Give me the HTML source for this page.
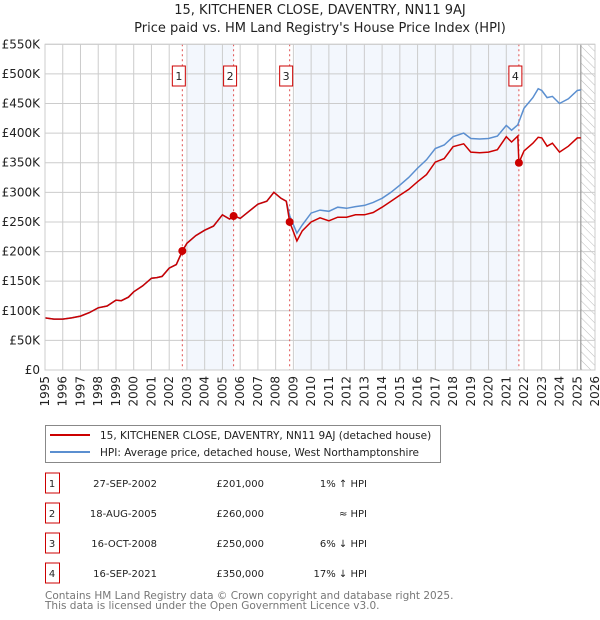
<!DOCTYPE html>
<html><head><meta charset="utf-8">
<style>
body{margin:0;background:#fff;font-family:"Liberation Sans","DejaVu Sans",sans-serif;}
svg{display:block}
</style></head>
<body>
<svg id="chart" width="600" height="620" xmlns="http://www.w3.org/2000/svg" font-family="DejaVu Sans, Liberation Sans, sans-serif">
<defs>
<pattern id="hatch" width="6" height="6" patternUnits="userSpaceOnUse" patternTransform="rotate(-45)">
<line x1="0" y1="0" x2="0" y2="6" stroke="#bbb" stroke-width="1"/>
</pattern>
</defs>
<text x="320" y="14" text-anchor="middle" font-size="13" fill="#222">15, KITCHENER CLOSE, DAVENTRY, NN11 9AJ</text>
<text x="320" y="32" text-anchor="middle" font-size="13" fill="#222">Price paid vs. HM Land Registry's House Price Index (HPI)</text>
<g id="plot"></g>
<g>
<rect x="45.5" y="425.5" width="395" height="37" fill="#fff" stroke="#888"/>
<line x1="50" y1="435" x2="90" y2="435" stroke="#cc0000" stroke-width="2"/>
<text x="100" y="439" font-size="10.5" fill="#222">15, KITCHENER CLOSE, DAVENTRY, NN11 9AJ (detached house)</text>
<line x1="50" y1="452" x2="90" y2="452" stroke="#5b8fd0" stroke-width="2"/>
<text x="100" y="456" font-size="10.5" fill="#222">HPI: Average price, detached house, West Northamptonshire</text>
</g>
<g id="table" font-size="10" fill="#222"></g>
<text x="45" y="599" font-size="10.5" fill="#777">Contains HM Land Registry data © Crown copyright and database right 2025.</text>
<text x="45" y="609" font-size="10.5" fill="#777">This data is licensed under the Open Government Licence v3.0.</text>
</svg>
<script>
const hpiYears=[1995,1995.5,1996,1996.5,1997,1997.5,1998,1998.5,1999,1999.3,1999.7,2000,2000.5,2001,2001.3,2001.6,2002,2002.4,2002.74,2003,2003.5,2004,2004.5,2005,2005.4,2005.7,2006,2006.5,2007,2007.5,2007.9,2008.3,2008.6,2008.8,2009.2,2009.5,2010,2010.5,2011,2011.5,2012,2012.5,2013,2013.5,2014,2014.5,2015,2015.5,2016,2016.5,2017,2017.5,2018,2018.6,2019,2019.5,2020,2020.5,2021,2021.3,2021.65,2022,2022.5,2022.8,2023,2023.3,2023.6,2024,2024.5,2025,2025.2];
const hpiValues=[88,86,86,88,91,97,105,108,118,117,123,132,142,155,156,158,172,178,200,214,227,236,243,262,255,259,256,268,280,285,300,290,285,260,231,245,265,270,268,275,273,276,278,283,290,300,312,325,341,355,374,380,394,400,391,390,391,395,413,405,414,442,460,475,472,460,462,450,458,472,473];
const redYears=[1995,1995.5,1996,1996.5,1997,1997.5,1998,1998.5,1999,1999.3,1999.7,2000,2000.5,2001,2001.3,2001.6,2002,2002.4,2002.74,2003,2003.5,2004,2004.5,2005,2005.4,2005.7,2006,2006.5,2007,2007.5,2007.9,2008.3,2008.6,2008.79,2009.2,2009.5,2010,2010.5,2011,2011.5,2012,2012.5,2013,2013.5,2014,2014.5,2015,2015.5,2016,2016.5,2017,2017.5,2018,2018.6,2019,2019.5,2020,2020.5,2021,2021.3,2021.65,2021.71,2022,2022.5,2022.8,2023,2023.3,2023.6,2024,2024.5,2025,2025.2];
const redValues=[88,86,86,88,91,97,105,108,118,117,123,132,142,155,156,158,172,178,201,214,227,236,243,262,255,260,256,268,280,285,300,290,285,250,218,235,250,257,252,258,258,262,262,266,275,285,295,305,318,330,351,357,377,382,368,367,368,372,394,385,395,350,370,383,393,392,378,383,368,378,392,392];
const saleLabels=['1','2','3','4'];
const saleYears=[2002.74,2005.63,2008.79,2021.71];
const salePrices=[201,260,250,350];
const saleDates=['27-SEP-2002','18-AUG-2005','16-OCT-2008','16-SEP-2021'];
const salePriceText=['£201,000','£260,000','£250,000','£350,000'];
const saleHpiText=['1% ↑ HPI','≈ HPI','6% ↓ HPI','17% ↓ HPI'];
const yTicks=[0,50,100,150,200,250,300,350,400,450,500,550];
const yTickLabels=['£0','£50K','£100K','£150K','£200K','£250K','£300K','£350K','£400K','£450K','£500K','£550K'];
const xTicks=[1995,1996,1997,1998,1999,2000,2001,2002,2003,2004,2005,2006,2007,2008,2009,2010,2011,2012,2013,2014,2015,2016,2017,2018,2019,2020,2021,2022,2023,2024,2025,2026];

const X0=45,X1=595,Y0=370,Y1=44.3;
const x=v=>X0+(v-1995)*(X1-X0)/31;
const y=v=>Y0-(v)*(Y0-Y1)/550;
const NS='http://www.w3.org/2000/svg';
const plot=document.getElementById('plot');
function mk(tag,attrs,parent){const e=document.createElementNS(NS,tag);for(const k in attrs)e.setAttribute(k,attrs[k]);(parent||plot).appendChild(e);return e;}

let r;
r=mk('rect',{x:x(2003.0),y:Y1,width:x(2005.63)-x(2003.0),height:Y0-Y1,fill:'#eef3fc',opacity:0.7});


r=mk('rect',{x:x(2009.07),y:Y1,width:x(2021.71)-x(2009.07),height:Y0-Y1,fill:'#eef3fc',opacity:0.7});


r=mk('rect',{x:x(2025.2),y:Y1,width:X1-x(2025.2),height:Y0-Y1,fill:'url(#hatch)'});



yTicks.forEach((t,i)=>{
  const l=mk('line',{x1:X0,x2:X1,y1:y(t),y2:y(t),stroke:'#ccc','stroke-width':1});
  
  
  const tx=mk('text',{x:40,y:y(t)+4,'text-anchor':'end','font-size':12,fill:'#222'});
  tx.textContent=yTickLabels[i];
  
  
});
xTicks.forEach(t=>{
  const l=mk('line',{x1:x(t),x2:x(t),y1:Y1,y2:Y0,stroke:'#ccc','stroke-width':1});
  
  
  const tx=mk('text',{x:0,y:0,'text-anchor':'end','font-size':12,fill:'#222',transform:`translate(${x(t)+4},${Y0+6}) rotate(-90)`});
  tx.textContent=t;
  
  
});
r=mk('line',{x1:x(2025.2),x2:x(2025.2),y1:Y1,y2:Y0,stroke:'#999','stroke-width':1.2});



saleYears.forEach((s,i)=>{
  const l=mk('line',{x1:x(s),x2:x(s),y1:Y1,y2:Y0,stroke:'#e05050','stroke-width':1,'stroke-dasharray':'2,3'});
  
  
  const b=mk('rect',{x:x(s)-10,y:66,width:13,height:20,fill:'#fff',stroke:'#cc0000'});
  
  
  const t=mk('text',{x:x(s)-3.5,y:80,'text-anchor':'middle','font-size':11,fill:'#222'});
  t.textContent=saleLabels[i];
  
  
});

function path(xs,vs){return xs.map((v,i)=>(i?'L':'M')+x(v).toFixed(1)+','+y(vs[i]).toFixed(1)).join('');}
r=mk('path',{d:path(hpiYears,hpiValues),fill:'none',stroke:'#5b8fd0','stroke-width':1.5});


r=mk('path',{d:path(redYears,redValues),fill:'none',stroke:'#cc0000','stroke-width':1.5});


saleYears.forEach((s,i)=>{
  const c=mk('circle',{cx:x(s),cy:y(salePrices[i]),r:4,fill:'#cc0000'});
  
  
});
r=mk('rect',{x:X0,y:Y1,width:X1-X0,height:Y0-Y1,fill:'none',stroke:'#ccc'});



const tb=document.getElementById('table');
const rowY=[483,513,543,573];
saleLabels.forEach((lab,i)=>{
  const cy=rowY[i];
  const b=mk('rect',{x:45.5,y:cy-10,width:14,height:20,fill:'#fff',stroke:'#cc0000'},tb);
  
  
  const vals=[[52,'middle',lab,'table-row-number'],[157,'end',saleDates[i],'table-date'],[264,'end',salePriceText[i],'table-price'],[367,'end',saleHpiText[i],'table-hpi-diff']];
  vals.forEach(v=>{
    const t=mk('text',{x:v[0],y:cy+4,'text-anchor':v[1]},tb);
    t.textContent=v[2];
    
    
  });
});
</script>
</body></html>
